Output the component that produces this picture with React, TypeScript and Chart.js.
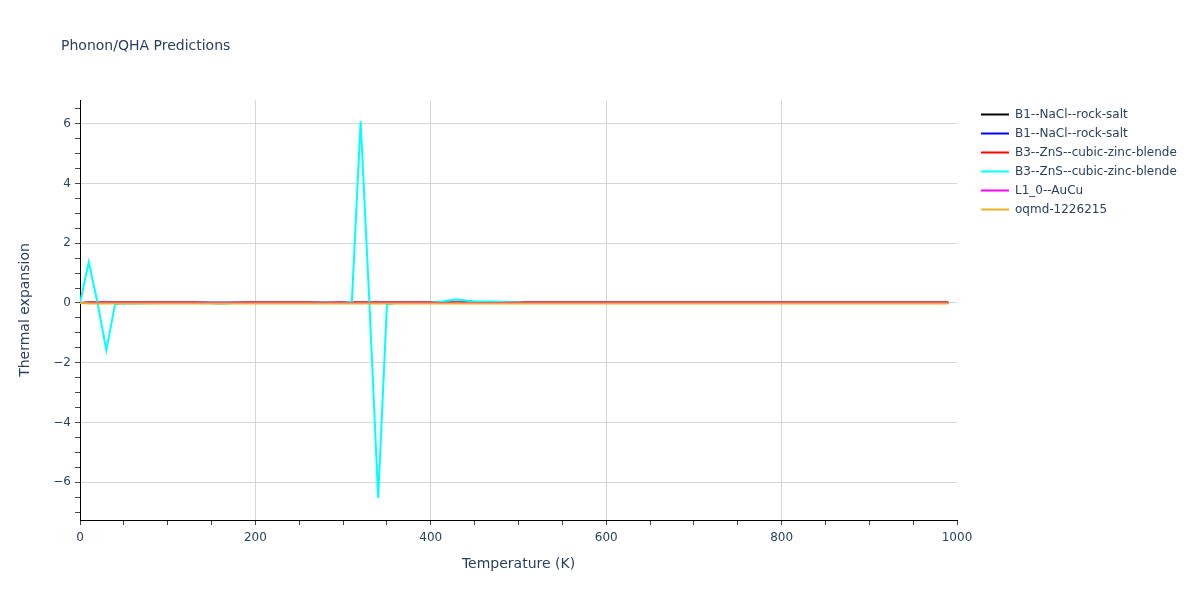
import React, { useEffect, useRef } from "react";
import { Chart, registerables } from "chart.js";

Chart.register(...registerables);

const temperatures = [
  0, 10, 20, 30, 40, 50, 60, 70, 80, 90, 100, 110, 120, 130, 140, 150, 160, 170, 180, 190,
  200, 210, 220, 230, 240, 250, 260, 270, 280, 290, 300, 310, 320, 330, 340, 350, 360, 370, 380, 390,
  400, 410, 420, 430, 440, 450, 460, 470, 480, 490, 500, 510, 520, 530, 540, 550, 560, 570, 580, 590,
  600, 610, 620, 630, 640, 650, 660, 670, 680, 690, 700, 710, 720, 730, 740, 750, 760, 770, 780, 790,
  800, 810, 820, 830, 840, 850, 860, 870, 880, 890, 900, 910, 920, 930, 940, 950, 960, 970, 980, 990,
];

const seriesNames = [
  "B1--NaCl--rock-salt",
  "B1--NaCl--rock-salt",
  "B3--ZnS--cubic-zinc-blende",
  "B3--ZnS--cubic-zinc-blende",
  "L1_0--AuCu",
  "oqmd-1226215",
];

const seriesColors = ["#000000", "#0000ff", "#ff0000", "#00ffff", "#ff00ff", "#e6b422"];

const nacl1 = [
  0, 0.01, 0.01, 0.01, 0.01, 0.01, 0.01, 0.01, 0.01, 0.01, 0.01, 0.01, 0.01, 0.01, 0.01, 0.01, 0.01, 0.01, 0.01, 0.01,
  0.01, 0.01, 0.01, 0.01, 0.01, 0.01, 0.01, 0.01, 0.01, 0.01, 0.01, 0.01, 0.01, 0.01, 0.01, 0.01, 0.01, 0.01, 0.01, 0.01,
  0.01, 0.01, 0.01, 0.01, 0.01, 0.01, 0.01, 0.01, 0.01, 0.01, 0.01, 0.01, 0.01, 0.01, 0.01, 0.01, 0.01, 0.01, 0.01, 0.01,
  0.01, 0.01, 0.01, 0.01, 0.01, 0.01, 0.01, 0.01, 0.01, 0.01, 0.01, 0.01, 0.01, 0.01, 0.01, 0.01, 0.01, 0.01, 0.01, 0.01,
  0.01, 0.01, 0.01, 0.01, 0.01, 0.01, 0.01, 0.01, 0.01, 0.01, 0.01, 0.01, 0.01, 0.01, 0.01, 0.01, 0.01, 0.01, 0.01, 0.01,
];

const nacl2 = [
  0, 0.01, 0.01, 0.01, 0.01, 0.01, 0.01, 0.01, 0.01, 0.01, 0.01, 0.01, 0.01, 0.01, 0.01, 0.01, 0.01, 0.01, 0.01, 0.01,
  0.01, 0.01, 0.01, 0.01, 0.01, 0.01, 0.01, 0.01, 0.01, 0.01, 0.01, 0.01, 0.01, 0.01, 0.01, 0.01, 0.01, 0.01, 0.01, 0.01,
  0.01, 0.01, 0.01, 0.01, 0.01, 0.01, 0.01, 0.01, 0.01, 0.01, 0.01, 0.01, 0.01, 0.01, 0.01, 0.01, 0.01, 0.01, 0.01, 0.01,
  0.01, 0.01, 0.01, 0.01, 0.01, 0.01, 0.01, 0.01, 0.01, 0.01, 0.01, 0.01, 0.01, 0.01, 0.01, 0.01, 0.01, 0.01, 0.01, 0.01,
  0.01, 0.01, 0.01, 0.01, 0.01, 0.01, 0.01, 0.01, 0.01, 0.01, 0.01, 0.01, 0.01, 0.01, 0.01, 0.01, 0.01, 0.01, 0.01, 0.01,
];

const zns1 = [
  0, 0.02, 0.02, 0.02, 0.02, 0.02, 0.02, 0.02, 0.02, 0.02, 0.02, 0.02, 0.02, 0.02, 0.01, 0.0, -0.01, 0.0, 0.01, 0.02,
  0.02, 0.02, 0.02, 0.02, 0.02, 0.02, 0.02, 0.01, 0.0, 0.01, 0.02, 0.02, 0.02, 0.02, 0.02, 0.02, 0.02, 0.02, 0.02, 0.02,
  0.02, 0.02, 0.02, 0.02, 0.02, 0.02, 0.02, 0.02, 0.02, 0.01, 0.01, 0.02, 0.02, 0.02, 0.02, 0.02, 0.02, 0.02, 0.02, 0.02,
  0.02, 0.02, 0.02, 0.02, 0.02, 0.02, 0.02, 0.02, 0.02, 0.02, 0.02, 0.02, 0.02, 0.02, 0.02, 0.02, 0.02, 0.02, 0.02, 0.02,
  0.02, 0.02, 0.02, 0.02, 0.02, 0.02, 0.02, 0.02, 0.02, 0.02, 0.02, 0.02, 0.02, 0.02, 0.02, 0.02, 0.02, 0.02, 0.02, 0.02,
];

const zns2 = [
  0, 1.37, 0.0, -1.58, -0.04, -0.01, -0.02, -0.02, -0.01, 0, 0, 0, 0, 0, 0, -0.01, -0.02, -0.01, 0, 0,
  0, 0, 0, 0, 0, 0, 0, 0, 0, 0, 0, 0.04, 6.08, 0.0, -6.52, -0.05, 0, 0, 0, 0,
  0.01, 0.03, 0.08, 0.12, 0.08, 0.05, 0.05, 0.04, 0.03, 0.02, 0.01, 0, 0, 0, 0, 0, 0, 0, 0, 0,
  0, 0, 0, 0, 0, 0, 0, 0, 0, 0, 0, 0, 0, 0, 0, 0, 0, 0, 0, 0,
  0, 0, 0, 0, 0, 0, 0, 0, 0, 0, 0, 0, 0, 0, 0, 0, 0, 0, 0, 0,
];

const aucu = [
  0, 0, 0, 0, 0, 0, 0, 0, 0, 0, 0, 0, 0, 0, 0, 0, 0, 0, 0, 0,
  0, 0, 0, 0, 0, 0, 0, 0, 0, 0, 0, 0, 0, 0, 0, 0, 0, 0, 0, 0,
  0, 0, 0, 0, 0, 0, 0, 0, 0, 0, 0, 0, 0, 0, 0, 0, 0, 0, 0, 0,
  0, 0, 0, 0, 0, 0, 0, 0, 0, 0, 0, 0, 0, 0, 0, 0, 0, 0, 0, 0,
  0, 0, 0, 0, 0, 0, 0, 0, 0, 0, 0, 0, 0, 0, 0, 0, 0, 0, 0, 0,
];

const oqmd = [
  0, -0.02, -0.02, -0.02, -0.02, -0.02, -0.02, -0.02, -0.02, -0.02, -0.02, -0.02, -0.02, -0.02, -0.02, -0.02, -0.02, -0.02, -0.02, -0.02,
  -0.02, -0.02, -0.02, -0.02, -0.02, -0.02, -0.02, -0.02, -0.02, -0.02, -0.02, -0.02, -0.02, -0.02, -0.02, -0.02, -0.02, -0.02, -0.02, -0.02,
  -0.02, -0.02, -0.02, -0.02, -0.02, -0.02, -0.02, -0.02, -0.02, -0.02, -0.02, -0.02, -0.02, -0.02, -0.02, -0.02, -0.02, -0.02, -0.02, -0.02,
  -0.02, -0.02, -0.02, -0.02, -0.02, -0.02, -0.02, -0.02, -0.02, -0.02, -0.02, -0.02, -0.02, -0.02, -0.02, -0.02, -0.02, -0.02, -0.02, -0.02,
  -0.02, -0.02, -0.02, -0.02, -0.02, -0.02, -0.02, -0.02, -0.02, -0.02, -0.02, -0.02, -0.02, -0.02, -0.02, -0.02, -0.02, -0.02, -0.02, -0.02,
];

const seriesValues = [nacl1, nacl2, zns1, zns2, aucu, oqmd];

const chartTitle = "Phonon/QHA Predictions";
const xTitle = "Temperature (K)";
const yTitle = "Thermal expansion";

const FONT = '"DejaVu Sans", Verdana, sans-serif';
const TEXT = "#2a3f5f";

const isMultiple = (v: number, m: number) => Math.abs(v / m - Math.round(v / m)) < 1e-9;

const overlayPlugin = {
  id: "overlay",
  afterDraw(chart: any) {
    const ctx = chart.ctx;
    const area = chart.chartArea;
    ctx.save();
    ctx.fillStyle = TEXT;
    ctx.font = `14px ${FONT}`;
    ctx.textAlign = "left";
    ctx.textBaseline = "middle";
    ctx.fillText(chartTitle, 61, 46);

    ctx.font = `14px ${FONT}`;
    ctx.textAlign = "center";
    ctx.fillText(xTitle, (area.left + area.right) / 2, 564);
    ctx.save();
    ctx.translate(25, (area.top + area.bottom) / 2);
    ctx.rotate(-Math.PI / 2);
    ctx.fillText(yTitle, 0, 0);
    ctx.restore();

    ctx.font = `12px ${FONT}`;
    ctx.textAlign = "left";
    seriesNames.forEach((name, i) => {
      const y = 114.5 + i * 19;
      ctx.strokeStyle = seriesColors[i];
      ctx.lineWidth = 2;
      ctx.beginPath();
      ctx.moveTo(981, y);
      ctx.lineTo(1009, y);
      ctx.stroke();
      ctx.fillStyle = TEXT;
      ctx.fillText(name, 1015, y);
    });
    ctx.restore();
  },
};

export default function App() {
  const ref = useRef<HTMLCanvasElement | null>(null);
  useEffect(() => {
    if (!ref.current) return;
    const datasets = seriesValues.map((vals, i) => ({
      label: seriesNames[i],
      data: temperatures.map((t, j) => ({ x: t, y: vals[j] })),
      borderColor: seriesColors[i],
      backgroundColor: seriesColors[i],
      borderWidth: 2,
      pointRadius: 0,
      tension: 0,
      fill: false,
      order: seriesValues.length - i,
    }));
    const chart = new Chart(ref.current, {
      type: "line",
      data: { datasets },
      options: {
        animation: false,
        responsive: false,
        devicePixelRatio: 1,
        layout: { padding: { left: 0, right: 243, top: 100, bottom: 0 } },
        plugins: { legend: { display: false }, tooltip: { enabled: false }, title: { display: false } },
        scales: {
          x: {
            type: "linear",
            min: 0,
            max: 1000,
            afterFit: (s: any) => {
              s.height = 80;
            },
            border: { color: "#000", width: 1 },
            grid: {
              color: (c: any) =>
                c.tick && isMultiple(c.tick.value, 200) && c.tick.value > 0 && c.tick.value < 1000 ? "#d6d6d6" : "rgba(0,0,0,0)",
              tickColor: "#444",
              tickLength: 5,
              drawTicks: true,
            },
            ticks: {
              stepSize: 50,
              autoSkip: false,
              maxRotation: 0,
              includeBounds: false,
              padding: 6,
              color: TEXT,
              font: { family: FONT, size: 12 },
              callback: (v: any) => (isMultiple(Number(v), 200) ? String(v) : ""),
            },
          },
          y: {
            type: "linear",
            min: -7.26,
            max: 6.79,
            afterFit: (s: any) => {
              s.width = 80;
            },
            border: { color: "#000", width: 1 },
            grid: {
              color: (c: any) => (c.tick && isMultiple(c.tick.value, 2) ? "#d6d6d6" : "rgba(0,0,0,0)"),
              tickColor: "#444",
              tickLength: 5,
              drawTicks: true,
            },
            ticks: {
              stepSize: 0.5,
              autoSkip: false,
              includeBounds: false,
              maxTicksLimit: 100,
              padding: 4,
              color: TEXT,
              font: { family: FONT, size: 12 },
              callback: (v: any) => {
                const n = Number(v);
                if (!isMultiple(n, 2)) return "";
                return n < 0 ? "\u2212" + Math.abs(n) : String(n);
              },
            },
          },
        },
      },
      plugins: [overlayPlugin],
    } as any);
    return () => chart.destroy();
  }, []);
  return (
    <div style={{ position: "fixed", left: 0, top: 0, width: 1200, height: 600, background: "#fff" }}>
      <canvas ref={ref} width={1200} height={600} style={{ width: 1200, height: 600, display: "block" }} />
    </div>
  );
}
